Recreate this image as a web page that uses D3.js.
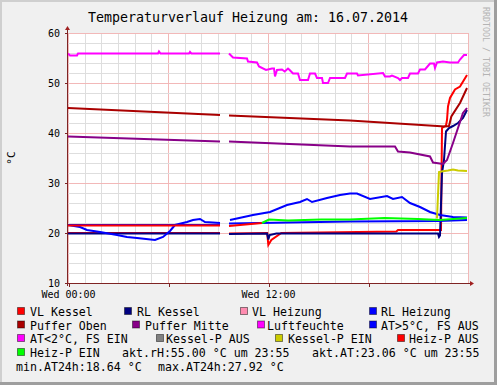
<!DOCTYPE html>
<html>
<head>
<meta charset="utf-8">
<script src="https://cdn.jsdelivr.net/npm/d3@7"></script>
<style>
  body { margin: 0; background: #f0f0f0; }
  text { font-family: "DejaVu Sans Mono", monospace; fill: #000; }
</style>
</head>
<body>
<svg id="chart" width="497" height="385"></svg>
<script>
// ---- data (hours since midnight, °C / %rH); null breaks the line ----
const title = 'Temperaturverlauf Heizung am: 16.07.2014';
const yTicks = [10, 20, 30, 40, 50, 60];
const xTickHours = [0, 6, 12, 18];
const xTickLabels = ['Wed 00:00', '', 'Wed 12:00', ''];

const vlKessel = [[0,20.0],[9.12,20.0],[9.13,null],[9.66,19.9],[11.95,20.0],[12.02,17.6],[12.2,18.6],[12.8,20.0],[19.7,20.3],[19.8,20.6],[22.38,20.6],[22.44,41.0],[22.68,41.5],[22.74,42.6],[22.8,45.3],[22.92,47.0],[23.22,48.7],[23.52,49.3],[23.94,51.6]];
const rlKessel = [[0,19.9],[9.12,19.9],[9.13,null],[9.66,19.8],[11.95,19.9],[12.02,18.7],[12.1,19.6],[12.5,19.9],[22.2,19.9],[22.26,19.2],[22.32,19.5],[22.44,32.0],[22.56,34.6],[22.68,40.3],[22.86,41.0],[23.1,41.4],[23.4,42.0],[23.7,43.0],[23.94,44.6]];
const rlHeizung = [[0,21.6],[9.12,21.6],[9.13,null],[9.66,21.9],[16.9,22.3],[22.2,22.4],[23.94,22.6]];
const pufferOben = [[0,45.0],[9.12,43.6],[9.13,null],[9.66,43.5],[16.92,42.5],[22.62,41.3],[22.86,41.4],[23.0,43.3],[23.52,46.0],[23.94,49.0]];
const pufferMitte = [[0,39.3],[9.12,38.3],[9.13,null],[9.66,38.3],[16.92,37.3],[19.62,37.3],[19.8,36.3],[20.52,36.1],[21.72,35.3],[21.9,34.1],[22.5,33.8],[22.74,34.6],[23.1,38.0],[23.7,44.0],[23.94,45.0]];
const luftfeuchte = [[0,55.9],[0.12,55.5],[0.54,55.5],[0.6,55.9],[5.4,55.9],[5.46,56.3],[5.55,55.9],[7.26,55.9],[7.32,56.2],[7.4,55.9],[9.12,55.9],[9.13,null],
  [9.66,55.9],[9.9,55.1],[10.74,54.9],[10.8,54.3],[11.34,54.1],[11.46,53.3],[11.88,52.6],[12.24,52.9],[12.36,52.9],[12.42,51.3],[12.54,52.6],[12.84,52.7],[13.0,52.3],[13.2,52.9],[13.3,52.6],
  [13.5,51.9],[13.8,51.9],[13.92,50.6],[14.4,50.6],[14.52,51.9],[14.82,51.9],[14.94,51.0],[15.24,51.0],[15.3,50.0],[15.6,50.0],[15.72,51.0],[16.62,51.0],[16.74,51.9],[17.34,51.9],[17.4,51.5],
  [18.9,52.0],[19.02,51.3],[19.32,51.3],[19.44,51.5],[19.8,51.0],[19.92,50.6],[20.04,51.0],[20.4,51.0],[20.52,51.9],[21.0,51.9],[21.12,52.7],[21.42,52.7],[21.72,53.9],[21.96,53.9],[22.02,53.0],
  [22.14,54.1],[22.5,54.3],[22.92,54.1],[23.4,54.1],[23.52,54.7],[23.76,55.6],[23.94,55.6]];
const atWarm = [[0,21.6],[0.72,21.2],[1.14,20.6],[1.92,20.2],[2.94,19.6],[3.54,19.2],[4.14,19.0],[5.22,18.6],[5.7,19.2],[6.12,20.4],[6.42,21.6],[7.14,22.2],[7.5,22.6],[7.92,22.8],[8.22,22.2],[9.12,22.0],[9.13,null],
  [9.72,22.6],[11.1,23.6],[12.12,24.2],[13.14,25.6],[13.92,26.2],[14.34,26.8],[14.64,26.2],[15.54,27.0],[16.32,27.6],[16.92,27.9],[17.34,27.9],[18.12,26.8],[19.14,27.4],[19.5,26.8],[20.04,27.2],[20.52,26.0],[21.12,25.2],[21.72,24.2],[22.32,23.6],[23.1,23.2],[23.94,23.1]];
const kesselPEin = [[22.14,22.9],[22.26,32.2],[22.4,32.3],[22.8,32.5],[23.1,32.7],[23.4,32.5],[23.94,32.4]];
const heizPAus = [[0,21.5],[9.12,21.5],[9.13,null],[9.66,21.4],[11.64,22.0]];
const heizPEin = [[11.64,22.0],[12.06,22.7],[13.2,22.5],[15.2,22.7],[16.9,22.7],[19.0,23.0],[21.0,22.8],[22.3,22.6],[23.94,23.0]];

const legendNames = [
  ['VL Kessel', 'RL Kessel', 'VL Heizung', 'RL Heizung'],
  ['Puffer Oben', 'Puffer Mitte', 'Luftfeuchte', 'AT>5°C, FS AUS'],
  ['AT<2°C, FS EIN', 'Kessel-P AUS', 'Kessel-P EIN', 'Heiz-P AUS'],
  ['Heiz-P EIN']
];
const statTexts = [
  ['akt.rH:55.00 °C um 23:55', 'akt.AT:23.06 °C um 23:55'],
  ['min.AT24h:18.64 °C', 'max.AT24h:27.92 °C']
];

// ---- styles / layout ----
const colors = {
  'VL Kessel': '#ff0000', 'RL Kessel': '#000080', 'VL Heizung': '#ff8cb0', 'RL Heizung': '#0000ff',
  'Puffer Oben': '#aa0000', 'Puffer Mitte': '#880088', 'Luftfeuchte': '#ff00ff', 'AT>5°C, FS AUS': '#0000ff',
  'AT<2°C, FS EIN': '#ff00ff', 'Kessel-P AUS': '#808080', 'Kessel-P EIN': '#cccc00', 'Heiz-P AUS': '#ff0000',
  'Heiz-P EIN': '#00ff00'
};
const legendBoxX = [[17, 124, 240, 369], [17, 132, 257, 369], [17, 156, 275, 397], [17]];
const legendTextX = [[30, 137, 252, 381], [30, 145, 267, 381], [30, 166, 288, 409], [30]];
const rowY = [312, 325.5, 339, 353, 367];
const statX = [[122, 312], [16, 158]];

const plot = { left: 68, right: 468, top: 33, bottom: 283 };
const svg = d3.select('#chart');

// background + shaded frame
svg.append('rect').attr('width', 497).attr('height', 385).attr('fill', '#f0f0f0');
svg.append('path').attr('d', 'M0,0H497V2H2V385H0Z').attr('fill', '#cfcfcf');
svg.append('path').attr('d', 'M497,0V385H0V382H494V0Z').attr('fill', '#9e9e9e');

const x = d3.scaleLinear().domain([0, 24]).range([plot.left, plot.right]);
const y = d3.scaleLinear().domain([10, 60]).range([plot.bottom, plot.top]);

svg.append('rect')
  .attr('x', plot.left).attr('y', plot.top)
  .attr('width', plot.right - plot.left).attr('height', plot.bottom - plot.top)
  .attr('fill', '#fff');

// grid
const grid = svg.append('g').attr('shape-rendering', 'crispEdges');
d3.range(0, 25, 1).forEach(h => {
  const px = Math.round(x(h)) + 0.5;
  grid.append('line').attr('x1', px).attr('x2', px).attr('y1', plot.top).attr('y2', plot.bottom)
    .attr('stroke', h % 6 === 0 ? '#f2b8b8' : '#dedede');
});
d3.range(10, 61, 2).forEach(v => {
  const py = Math.round(y(v)) + 0.5;
  grid.append('line').attr('x1', plot.left).attr('x2', plot.right).attr('y1', py).attr('y2', py)
    .attr('stroke', v % 10 === 0 ? '#f2b8b8' : '#dedede');
});

// series
const line = d3.line()
  .defined(d => d[1] !== null)
  .x(d => x(d[0]))
  .y(d => y(d[1]));

const series = [
  [vlKessel, 'VL Kessel'], [rlKessel, 'RL Kessel'], [rlHeizung, 'RL Heizung'],
  [pufferOben, 'Puffer Oben'], [pufferMitte, 'Puffer Mitte'], [luftfeuchte, 'Luftfeuchte'],
  [atWarm, 'AT>5°C, FS AUS'], [kesselPEin, 'Kessel-P EIN'], [heizPAus, 'Heiz-P AUS'], [heizPEin, 'Heiz-P EIN']
];
svg.append('g').selectAll('path')
  .data(series)
  .enter().append('path')
    .attr('d', d => line(d[0]))
    .attr('fill', 'none')
    .attr('stroke', d => colors[d[1]])
    .attr('stroke-width', 2)
    .attr('stroke-linejoin', 'miter');

// axes
const axisColor = '#7f2424';
const yAxis = svg.append('g')
  .attr('transform', `translate(${plot.left - 0.5},0)`)
  .call(d3.axisLeft(y).tickValues(yTicks).tickSize(3).tickPadding(4.5));
const xAxis = svg.append('g')
  .attr('transform', `translate(0,${plot.bottom + 0.5})`)
  .call(d3.axisBottom(x).tickValues(xTickHours).tickSize(3).tickPadding(4.5)
    .tickFormat((d, i) => xTickLabels[i]));
[yAxis, xAxis].forEach(a => {
  a.select('.domain').remove();
  a.selectAll('line').attr('stroke', axisColor).attr('shape-rendering', 'crispEdges');
  a.selectAll('text').attr('font-size', '10px').attr('font-family', '"DejaVu Sans Mono", monospace').attr('fill', '#000');
});
xAxis.selectAll('.tick line').attr('transform', 'translate(0.5,0)');

svg.append('line')
  .attr('x1', plot.left - 0.5).attr('x2', plot.left - 0.5).attr('y1', plot.bottom + 3).attr('y2', plot.top - 4)
  .attr('stroke', axisColor).attr('stroke-width', 1);
svg.append('line')
  .attr('x1', plot.left - 3).attr('x2', plot.right + 3).attr('y1', plot.bottom + 0.5).attr('y2', plot.bottom + 0.5)
  .attr('stroke', axisColor).attr('stroke-width', 1);
svg.append('path')
  .attr('d', `M${plot.left - 3},${plot.top - 3}L${plot.left - 0.5},${plot.top - 7}L${plot.left + 2},${plot.top - 3}Z`)
  .attr('fill', '#a02020');
svg.append('path')
  .attr('d', `M${plot.right + 2},${plot.bottom - 2}L${plot.right + 6},${plot.bottom + 0.5}L${plot.right + 2},${plot.bottom + 3}Z`)
  .attr('fill', '#a02020');

// title, unit, watermark
svg.append('text')
  .attr('x', 248).attr('y', 22)
  .attr('text-anchor', 'middle')
  .attr('font-size', '13.3px')
  .text(title);
svg.append('text')
  .attr('transform', `translate(15,${(plot.top + plot.bottom) / 2}) rotate(-90)`)
  .attr('text-anchor', 'middle')
  .attr('font-size', '11px')
  .text('°C');
svg.append('text')
  .attr('transform', 'translate(483,7) rotate(90)')
  .attr('font-size', '8.3px')
  .style('fill', '#b4b4b4')
  .text('RRDTOOL / TOBI OETIKER');

// legend
const legend = svg.append('g');
legendNames.forEach((row, r) => {
  row.forEach((name, i) => {
    legend.append('rect')
      .attr('x', legendBoxX[r][i] + 0.5).attr('y', rowY[r] - 4.5)
      .attr('width', 7).attr('height', 7)
      .attr('fill', colors[name])
      .attr('stroke', 'rgba(0,0,0,0.45)').attr('stroke-width', 1);
    legend.append('text')
      .attr('x', legendTextX[r][i]).attr('y', rowY[r] + 4)
      .attr('font-size', '11.6px')
      .text(name);
  });
});
statTexts.forEach((row, k) => {
  row.forEach((t, i) => {
    legend.append('text')
      .attr('x', statX[k][i]).attr('y', rowY[3 + k] + 4)
      .attr('font-size', '11.6px')
      .text(t);
  });
});
</script>
</body>
</html>
